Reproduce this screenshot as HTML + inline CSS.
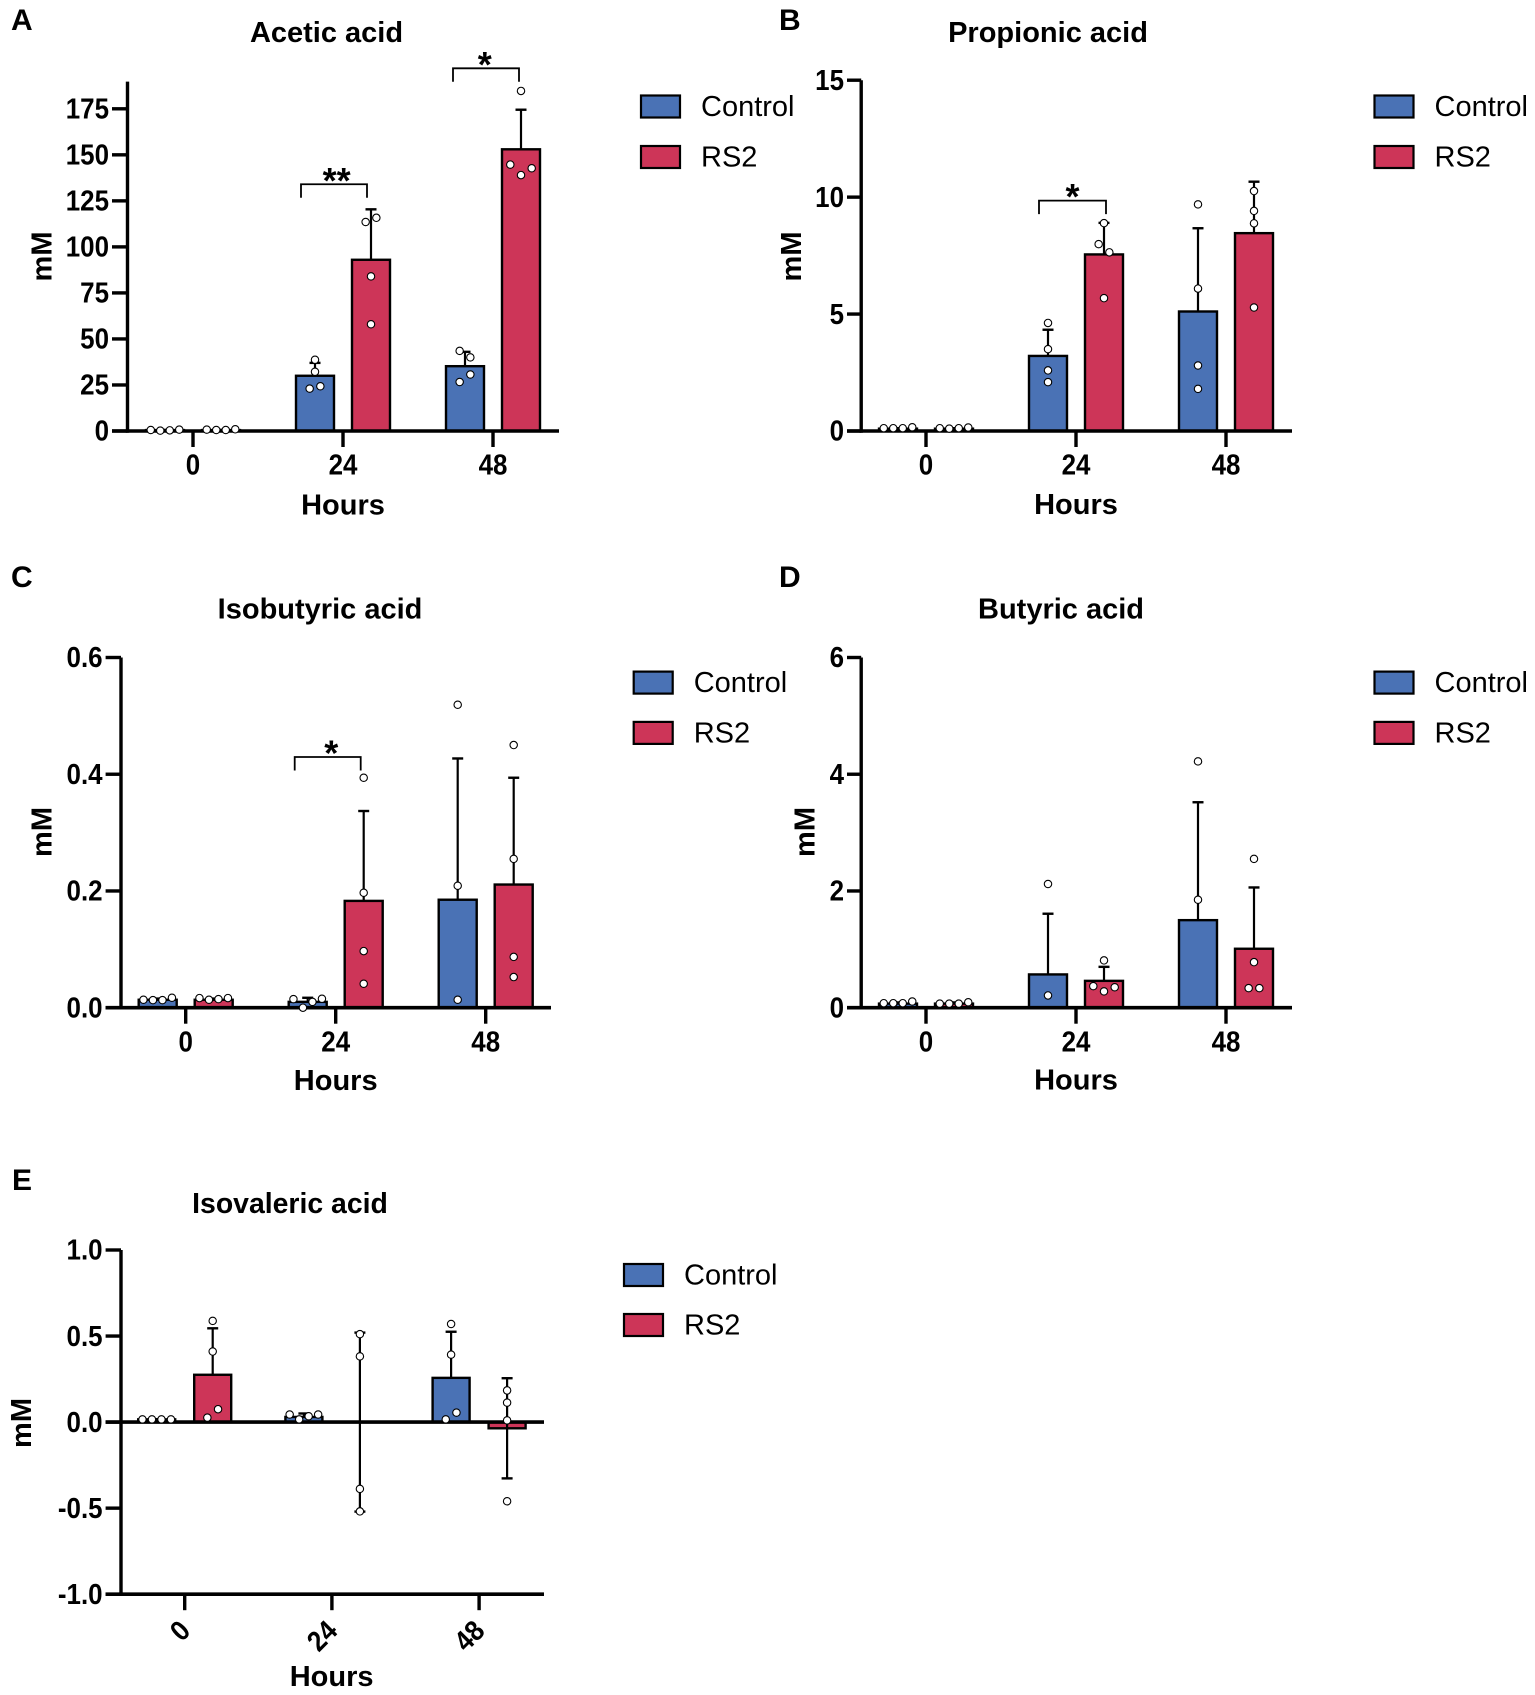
<!DOCTYPE html>
<html lang="en">
<head>
<meta charset="utf-8">
<title>Short-chain fatty acid concentrations</title>
<style>
html,body{margin:0;padding:0;background:#fff;}
svg{display:block;font-family:"Liberation Sans",Arial,sans-serif;}
</style>
</head>
<body>
<svg id="figure" xmlns="http://www.w3.org/2000/svg" width="1535" height="1695" viewBox="0 0 1535 1695"></svg>
<script>
const categories = ['0', '24', '48'];
const seriesNames = ['Control', 'RS2'];

const aTicks = [0, 25, 50, 75, 100, 125, 150, 175];
const aTickLabels = ['0', '25', '50', '75', '100', '125', '150', '175'];
const aControlMeans = [0.5, 30, 35.2];
const aRs2Means = [0.5, 93, 153];
const aControlSd = [0.1, 7, 7.8];
const aRs2Sd = [0.1, 27.4, 21.5];
const aControlPoints = [[0.56, 0.19, 0.37, 0.75], [38.7, 32.2, 23, 24.3], [43.5, 40, 26.6, 30.7]];
const aRs2Points = [[0.75, 0.56, 0.56, 0.93], [113.5, 115.8, 84, 58], [184.7, 144.7, 139, 142.7]];
const aSigGroups = [1, 2];
const aSigLevels = [134, 197];
const aSigLabels = ['**', '*'];

const bTicks = [0, 5, 10, 15];
const bTickLabels = ['0', '5', '10', '15'];
const bControlMeans = [0.1, 3.21, 5.11];
const bRs2Means = [0.1, 7.55, 8.46];
const bControlSd = [0.02, 1.12, 3.56];
const bRs2Sd = [0.02, 1.35, 2.2];
const bControlPoints = [[0.12, 0.12, 0.12, 0.16], [4.62, 3.5, 2.59, 2.09], [9.69, 6.09, 2.8, 1.8]];
const bRs2Points = [[0.12, 0.1, 0.12, 0.15], [8.89, 7.99, 7.64, 5.68], [10.26, 9.41, 8.88, 5.28]];
const bSigGroups = [1];
const bSigLevels = [9.85];
const bSigLabels = ['*'];

const cTicks = [0, 0.2, 0.4, 0.6];
const cTickLabels = ['0.0', '0.2', '0.4', '0.6'];
const cControlMeans = [0.0136, 0.01, 0.185];
const cRs2Means = [0.0136, 0.183, 0.211];
const cControlSd = [0.002, 0.007, 0.242];
const cRs2Sd = [0.002, 0.154, 0.183];
const cControlPoints = [[0.0136, 0.013, 0.013, 0.017], [0.0147, 0, 0.01, 0.0153], [0.519, 0.209, 0.0136]];
const cRs2Points = [[0.0165, 0.0136, 0.0147, 0.0165], [0.394, 0.197, 0.097, 0.041], [0.45, 0.255, 0.087, 0.0525]];
const cSigGroups = [1];
const cSigLevels = [0.4295];
const cSigLabels = ['*'];

const dTicks = [0, 2, 4, 6];
const dTickLabels = ['0', '2', '4', '6'];
const dControlMeans = [0.07, 0.57, 1.5];
const dRs2Means = [0.07, 0.46, 1.01];
const dControlSd = [0.02, 1.04, 2.02];
const dRs2Sd = [0.02, 0.24, 1.05];
const dControlPoints = [[0.077, 0.077, 0.077, 0.106], [2.12, 0.21], [4.22, 1.85]];
const dRs2Points = [[0.07, 0.07, 0.07, 0.094], [0.37, 0.28, 0.35, 0.81], [2.55, 0.78, 0.336, 0.336]];
const dSigGroups = [];
const dSigLevels = [];
const dSigLabels = [];

const eTicks = [-1, -0.5, 0, 0.5, 1];
const eTickLabels = ['-1.0', '-0.5', '0.0', '0.5', '1.0'];
const eControlMeans = [0.016, 0.03, 0.257];
const eRs2Means = [0.275, 0, -0.036];
const eControlSd = [0.001, 0.02, 0.268];
const eRs2Sd = [0.27, 0.52, 0.291];
const eControlPoints = [[0.016, 0.016, 0.016, 0.016], [0.044, 0.016, 0.034, 0.044], [0.57, 0.392, 0.016, 0.055]];
const eRs2Points = [[0.588, 0.41, 0.026, 0.075], [0.511, 0.382, -0.388, -0.519], [0.184, 0.113, 0.01, -0.46]];
const eSigGroups = [];
const eSigLevels = [];
const eSigLabels = [];

const NS = 'http://www.w3.org/2000/svg';
const root = document.getElementById('figure');
const COLORS = ['#4a72b5', '#cd3558'];

function mk(tag, attrs, parent) {
  const n = document.createElementNS(NS, tag);
  for (const k in attrs) n.setAttribute(k, attrs[k]);
  parent.appendChild(n);
  return n;
}

function txt(parent, s, cx, cy, size, weight, anchor, rotate, xScale) {
  const attrs = {
    x: 0, y: size * 0.358, 'font-size': size, 'font-weight': weight, 'text-anchor': anchor, fill: '#000',
    transform: 'translate(' + cx + ' ' + cy + ') rotate(' + (rotate || 0) + ') scale(' + (xScale || 1) + ' 1)'
  };
  const t = mk('text', attrs, parent);
  t.textContent = s;
  return t;
}

function segment(parent, x1, y1, x2, y2, w) {
  return mk('line', {x1: x1, y1: y1, x2: x2, y2: y2, stroke: '#000', 'stroke-width': w}, parent);
}

/* Values within one cluster spread left-to-right in the order they are listed. */
function swarmOffsets(values, yScale) {
  const order = values.map(function (v, i) { return i; }).sort(function (p, q) { return values[p] - values[q]; });
  const clusters = [];
  order.forEach(function (idx, k) {
    if (k > 0 && Math.abs(yScale(values[idx]) - yScale(values[order[k - 1]])) < 10) clusters[clusters.length - 1].push(idx);
    else clusters.push([idx]);
  });
  const offsets = values.map(function () { return 0; });
  clusters.forEach(function (members) {
    members.sort(function (p, q) { return p - q; });
    const gap = members.length >= 4 ? 9.5 : 10.7;
    members.forEach(function (idx, k) { offsets[idx] = (k - (members.length - 1) / 2) * gap; });
  });
  return offsets;
}

function drawPanel(p) {
  const g = mk('g', {}, root);
  
  

  const y = function (v) {
    return p.y0 + (v - p.dom0) / (p.dom1 - p.dom0) * (p.y1 - p.y0);
  };
  const xTick = function (i) { return p.xStart + i * p.xStep; };
  const barW = p.barW;
  const off = [-28, 28];
  const means = [p.controlMeans, p.rs2Means];
  const sds = [p.controlSd, p.rs2Sd];
  const pts = [p.controlPoints, p.rs2Points];

  const panelLabel = txt(g, p.letter, p.letterX, p.letterY - 1, 30, 'bold', 'start');
  
  

  const title = txt(g, p.title, p.titleX, p.titleY - 1, p.titleSize || 29, 'bold', 'middle');
  
  

  // bars
  means.forEach(function (series, s) {
    series.forEach(function (m, i) {
      const cx = xTick(i) + off[s];
      const zero = y(0), top = y(m);
      const bar = mk('rect', {
        x: cx - barW / 2, y: Math.min(zero, top), width: barW, height: Math.abs(zero - top),
        fill: COLORS[s], stroke: '#000', 'stroke-width': 2.4
      }, g);
      
      
    });
  });

  // error bars
  means.forEach(function (series, s) {
    series.forEach(function (m, i) {
      const cx = xTick(i) + off[s];
      const sd = sds[s][i];
      const hi = m + sd;
      const lo = m <= 0 ? m - sd : m;
      const whisker = segment(g, cx, y(lo), cx, y(hi), 2.2);
      
      
      const capTop = segment(g, cx - 5.5, y(hi), cx + 5.5, y(hi), 2.4);
      
      
      if (m <= 0) {
        const capLow = segment(g, cx - 5.5, y(lo), cx + 5.5, y(lo), 2.4);
        
        
      }
    });
  });

  // axes
  const yAxis = segment(g, p.axisX, p.axisTop, p.axisX, p.axisBottom + 1.7, 3.4);
  
  

  const xAxis = segment(g, p.xAxisFrom, p.axisBottom, p.xAxisTo, p.axisBottom, 3.6);
  
  

  if (p.dom0 < 0) {
    const zeroLine = segment(g, p.xAxisFrom, y(0), p.xAxisTo, y(0), 3.6);
    
    
  }

  p.ticks.forEach(function (v, i) {
    const mark = segment(g, p.xAxisFrom, y(v), p.axisX, y(v), 3.4);
    
    
    const lab = txt(g, p.tickLabels[i], p.xAxisFrom - 3, y(v) - 0.5, 28.5, 'bold', 'end', 0, 0.91);
    
    
  });

  categories.forEach(function (c, i) {
    const mark = segment(g, xTick(i), p.axisBottom, xTick(i), p.axisBottom + 16, 3.4);
    
    
    const lab = p.rotateTicks
      ? txt(g, c, xTick(i), p.axisBottom + 31, 28.5, 'bold', 'end', -45, 0.91)
      : txt(g, c, xTick(i), p.axisBottom + 33.5, 28.5, 'bold', 'middle', 0, 0.91);
    
    
  });

  const xTitle = txt(g, 'Hours', p.hoursX, p.hoursY - 1, 29, 'bold', 'middle');
  
  

  const yTitle = txt(g, 'mM', p.mmX, p.mmY, 29, 'bold', 'middle', -90);
  
  

  // individual points
  pts.forEach(function (series, s) {
    series.forEach(function (vals, i) {
      const cx = xTick(i) + off[s];
      const offs = swarmOffsets(vals, y);
      vals.forEach(function (v, k) {
        const dot = mk('circle', {cx: cx + offs[k], cy: y(v), r: 3.7, fill: '#fff', stroke: '#000', 'stroke-width': 1.1}, g);
        
        
      });
    });
  });

  // significance brackets
  p.sigGroups.forEach(function (grp, i) {
    const left = xTick(grp) + p.sigLeft[i];
    const right = xTick(grp) + p.sigRight[i];
    const top = y(p.sigLevels[i]);
    const bracket = mk('path', {
      d: 'M' + left + ' ' + (top + 13.5) + 'V' + top + 'H' + right + 'V' + (top + 13.5),
      fill: 'none', stroke: '#000', 'stroke-width': 1.8
    }, g);
    
    
    const star = mk('text', {
      x: (left + right) / 2 + p.sigDx[i], y: top + 8.5, 'font-size': 36, 'font-weight': 'bold', 'text-anchor': 'middle', fill: '#000'
    }, g);
    star.textContent = p.sigLabels[i];
    
    
  });

  // legend
  seriesNames.forEach(function (name, s) {
    const top = p.legendY + s * p.legendGap;
    const swatch = mk('rect', {
      x: p.legendX, y: top, width: 39, height: 22, fill: COLORS[s], stroke: '#000', 'stroke-width': 2.2
    }, g);
    
    
    const entry = txt(g, name, p.legendX + 60, top + 10, 29, 'normal', 'start');
    
    
  });
}

drawPanel({
  id: 'acetic-acid', letter: 'A', letterX: 11, letterY: 20, title: 'Acetic acid', titleX: 326.5, titleY: 32.5,
  ticks: aTicks, tickLabels: aTickLabels, controlMeans: aControlMeans, rs2Means: aRs2Means, controlSd: aControlSd, rs2Sd: aRs2Sd,
  controlPoints: aControlPoints, rs2Points: aRs2Points, sigGroups: aSigGroups, sigLevels: aSigLevels, sigLabels: aSigLabels,
  sigLeft: [-42, -40], sigRight: [24, 26], sigDx: [2.7, -1.3],
  dom0: 0, dom1: 175, y0: 431, y1: 108.8, axisX: 127.5, axisTop: 81.6, axisBottom: 431, xAxisFrom: 112, xAxisTo: 559,
  xStart: 193, xStep: 150, barW: 38, hoursX: 343, hoursY: 505, mmX: 41, mmY: 256.5, legendX: 641, legendY: 95.5, legendGap: 50.5
});
drawPanel({
  id: 'propionic-acid', letter: 'B', letterX: 779, letterY: 20, title: 'Propionic acid', titleX: 1048, titleY: 32.5,
  ticks: bTicks, tickLabels: bTickLabels, controlMeans: bControlMeans, rs2Means: bRs2Means, controlSd: bControlSd, rs2Sd: bRs2Sd,
  controlPoints: bControlPoints, rs2Points: bRs2Points, sigGroups: bSigGroups, sigLevels: bSigLevels, sigLabels: bSigLabels,
  sigLeft: [-37], sigRight: [30], sigDx: [0],
  dom0: 0, dom1: 15, y0: 431, y1: 80.2, axisX: 861.2, axisTop: 80.2, axisBottom: 431, xAxisFrom: 847, xAxisTo: 1292,
  xStart: 926, xStep: 150, barW: 38, hoursX: 1076, hoursY: 504.5, mmX: 790.5, mmY: 256.5, legendX: 1374.5, legendY: 95.5, legendGap: 50.5
});
drawPanel({
  id: 'isobutyric-acid', letter: 'C', letterX: 11, letterY: 577, title: 'Isobutyric acid', titleX: 320, titleY: 609,
  ticks: cTicks, tickLabels: cTickLabels, controlMeans: cControlMeans, rs2Means: cRs2Means, controlSd: cControlSd, rs2Sd: cRs2Sd,
  controlPoints: cControlPoints, rs2Points: cRs2Points, sigGroups: cSigGroups, sigLevels: cSigLevels, sigLabels: cSigLabels,
  sigLeft: [-41], sigRight: [25], sigDx: [3.6],
  dom0: 0, dom1: 0.6, y0: 1007.7, y1: 657.5, axisX: 121, axisTop: 657.5, axisBottom: 1007.7, xAxisFrom: 105.6, xAxisTo: 551,
  xStart: 185.7, xStep: 150, barW: 38, hoursX: 335.7, hoursY: 1080.7, mmX: 41, mmY: 832, legendX: 633.7, legendY: 671.6, legendGap: 50.3
});
drawPanel({
  id: 'butyric-acid', letter: 'D', letterX: 779, letterY: 577, title: 'Butyric acid', titleX: 1061, titleY: 609,
  ticks: dTicks, tickLabels: dTickLabels, controlMeans: dControlMeans, rs2Means: dRs2Means, controlSd: dControlSd, rs2Sd: dRs2Sd,
  controlPoints: dControlPoints, rs2Points: dRs2Points, sigGroups: dSigGroups, sigLevels: dSigLevels, sigLabels: dSigLabels,
  sigLeft: [], sigRight: [], sigDx: [],
  dom0: 0, dom1: 6, y0: 1007.7, y1: 657.5, axisX: 861.2, axisTop: 657.5, axisBottom: 1007.7, xAxisFrom: 847, xAxisTo: 1292,
  xStart: 926, xStep: 150, barW: 38, hoursX: 1076, hoursY: 1080, mmX: 804, mmY: 832, legendX: 1374.5, legendY: 671.6, legendGap: 50.3
});
drawPanel({
  id: 'isovaleric-acid', letter: 'E', letterX: 12, letterY: 1180, title: 'Isovaleric acid', titleSize: 28.4, titleX: 290, titleY: 1204,
  ticks: eTicks, tickLabels: eTickLabels, controlMeans: eControlMeans, rs2Means: eRs2Means, controlSd: eControlSd, rs2Sd: eRs2Sd,
  controlPoints: eControlPoints, rs2Points: eRs2Points, sigGroups: eSigGroups, sigLevels: eSigLevels, sigLabels: eSigLabels,
  sigLeft: [], sigRight: [], sigDx: [], rotateTicks: true,
  dom0: -1, dom1: 1, y0: 1594.2, y1: 1250, axisX: 121, axisTop: 1250, axisBottom: 1594.2, xAxisFrom: 105.6, xAxisTo: 544,
  xStart: 184.7, xStep: 147.2, barW: 37, hoursX: 331.6, hoursY: 1676.6, mmX: 20.5, mmY: 1423, legendX: 624, legendY: 1264, legendGap: 50
});
</script>
</body>
</html>
